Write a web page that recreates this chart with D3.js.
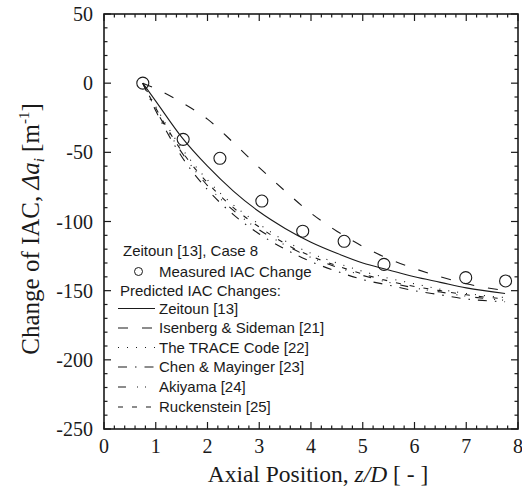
<!DOCTYPE html>
<html><head><meta charset="utf-8">
<script src="https://cdn.jsdelivr.net/npm/d3@7/dist/d3.min.js"></script>
<style>body{margin:0;background:#fff}</style>
</head><body>
<script>
const xTicks = [0,1,2,3,4,5,6,7,8];
const yTicks = [50,0,-50,-100,-150,-200,-250];
const measX = [0.75,1.53,2.24,3.05,3.84,4.64,5.41,6.99,7.76];
const measY = [0,-40.6,-54.3,-85.2,-107,-114.3,-131,-140.6,-143];
const predX = [0.75,1.0,1.5,2.0,2.5,3.0,3.5,4.0,4.5,5.0,5.5,6.0,6.5,7.0,7.75];
const zeitounY = [0,-13,-39,-60,-78,-93,-105,-115,-123,-130,-135,-140,-144,-148,-152];
const isenbergY = [0,-4,-14,-26,-43,-61,-78,-94,-107,-118,-127,-134,-140,-145,-150];
const traceY = [0,-17,-47,-70,-88,-102,-114,-123,-130,-136,-141,-145,-149,-152,-155];
const chenY = [0,-20,-53,-77,-95,-109,-120,-129,-136,-142,-146,-150,-153,-156,-158];
const akiyamaY = [0,-19,-50,-74,-92,-106,-117,-126,-133,-139,-144,-148,-151,-154,-157];
const ruckY = [0,-18,-49,-72,-90,-104,-116,-125,-132,-138,-143,-147,-150,-153,-156];
const seriesNames = ["Zeitoun [13]","Isenberg & Sideman [21]","The TRACE Code [22]","Chen & Mayinger [23]","Akiyama [24]","Ruckenstein [25]"];
const seriesData = [zeitounY,isenbergY,traceY,chenY,akiyamaY,ruckY];
const dashes = [null,"10,14","1,8","9,8,1.5,8","8,11,1,7,1,10","5,9"];

const W=522,H=491;
const svg=d3.select("body").append("svg").attr("width",W).attr("height",H);
const L=104,R=518,T=14,B=429;
const x=d3.scaleLinear().domain([0,8]).range([L,R]);
const y=d3.scaleLinear().domain([-250,50]).range([B,T]);
const ink="#1a1a1a";

svg.append("rect").attr("x",L).attr("y",T).attr("width",R-L).attr("height",B-T)
  .attr("fill","none").attr("stroke",ink).attr("stroke-width",1.6);

const xMinor=d3.range(0,8.001,0.2), yMinor=d3.range(-250,50.001,10);
const tk=svg.append("g").attr("stroke",ink).attr("stroke-width",1.2);
xMinor.forEach(v=>{const maj=Math.abs(v-Math.round(v))<1e-6; const len=maj?7:3.5;
  tk.append("line").attr("x1",x(v)).attr("x2",x(v)).attr("y1",B).attr("y2",B-len);
  tk.append("line").attr("x1",x(v)).attr("x2",x(v)).attr("y1",T).attr("y2",T+len);});
yMinor.forEach(v=>{const maj=Math.abs(v%50)<1e-6; const len=maj?7:3.5;
  tk.append("line").attr("y1",y(v)).attr("y2",y(v)).attr("x1",L).attr("x2",L+len);
  tk.append("line").attr("y1",y(v)).attr("y2",y(v)).attr("x1",R).attr("x2",R-len);});

const serif="'Liberation Serif','Times New Roman',serif";
const sans="'Liberation Sans',Arial,sans-serif";
svg.append("g").selectAll("text").data(xTicks).join("text")
  .attr("x",d=>x(d)).attr("y",453).attr("text-anchor","middle")
  .attr("font-family",serif).attr("font-size",20).attr("fill",ink).text(d=>d);
svg.append("g").selectAll("text").data(yTicks).join("text")
  .attr("x",93).attr("y",d=>y(d)+7).attr("text-anchor","end")
  .attr("font-family",serif).attr("font-size",20).attr("fill",ink).text(d=>d);

const xt=svg.append("text").attr("x",(L+R)/2+7).attr("y",482).attr("text-anchor","middle")
  .attr("font-family",serif).attr("font-size",23.5).attr("fill",ink);
xt.append("tspan").text("Axial Position, ");
xt.append("tspan").attr("font-style","italic").text("z/D");
xt.append("tspan").text(" [ - ]");

const yt=svg.append("text").attr("transform","translate(39,229) rotate(-90)").attr("text-anchor","middle")
  .attr("font-family",serif).attr("font-size",25).attr("fill",ink);
yt.append("tspan").text("Change of IAC, ");
yt.append("tspan").attr("font-style","italic").text("Δa");
yt.append("tspan").attr("font-style","italic").attr("font-size",15).attr("dy",5).text("i");
yt.append("tspan").attr("dy",-5).text(" [m");
yt.append("tspan").attr("font-size",15).attr("dy",-10).text("-1");
yt.append("tspan").attr("dy",10).text("]");

const line=d3.line().x(d=>x(d[0])).y(d=>y(d[1])).curve(d3.curveMonotoneX);
seriesData.forEach((s,i)=>{
  svg.append("path").datum(predX.map((v,j)=>[v,s[j]])).attr("d",line)
    .attr("fill","none").attr("stroke",ink).attr("stroke-width",1.1)
    .attr("stroke-dasharray",dashes[i]);
});
svg.append("g").selectAll("circle").data(measX.map((v,i)=>[v,measY[i]])).join("circle")
  .attr("cx",d=>x(d[0])).attr("cy",d=>y(d[1])).attr("r",6)
  .attr("fill","none").attr("stroke",ink).attr("stroke-width",1.1);

const lg=svg.append("g").attr("font-family",sans).attr("font-size",15).attr("fill",ink);
lg.append("text").attr("x",123).attr("y",256).text("Zeitoun [13], Case 8");
lg.append("circle").attr("cx",138.5).attr("cy",271.5).attr("r",4).attr("fill","none").attr("stroke",ink).attr("stroke-width",1);
lg.append("text").attr("x",159).attr("y",276.5).text("Measured IAC Change");
lg.append("text").attr("x",120).attr("y",295.5).text("Predicted IAC Changes:");
const rowY=[308.5,328,347.5,367,387,407];
seriesNames.forEach((n,i)=>{
  lg.append("line").attr("x1",118).attr("x2",155).attr("y1",rowY[i]).attr("y2",rowY[i])
    .attr("stroke",ink).attr("stroke-width",1.1).attr("stroke-dasharray",dashes[i]);
  lg.append("text").attr("x",159).attr("y",rowY[i]+5).text(n);
});
</script>
</body></html>
